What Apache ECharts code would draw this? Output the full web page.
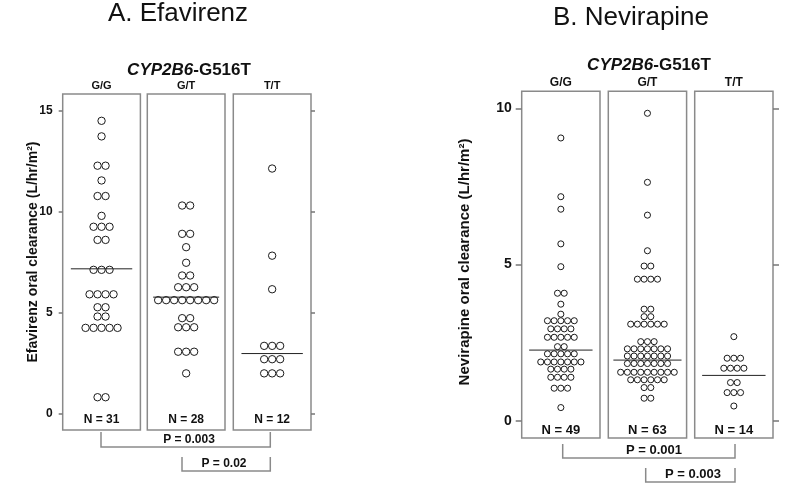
<!DOCTYPE html>
<html><head><meta charset="utf-8">
<script src="https://cdn.jsdelivr.net/npm/echarts@6/dist/echarts.min.js"></script>
<style>html,body{margin:0;padding:0;background:#fff}#c{width:800px;height:484px}</style>
</head><body><div id="c"></div>
<script>
// ---------- data ----------
const genotypes = ['G/G', 'G/T', 'T/T'];
const efTicks = [0, 5, 10, 15];
const nvTicks = [0, 5, 10];
const panelTitles = ['A. Efavirenz', 'B. Nevirapine'];
const geneLabel = ['CYP2B6', '-G516T'];
const yTitles = ['Efavirenz oral clearance (L/hr/m\u00B2)', 'Nevirapine oral clearance (L/hr/m\u00B2)'];

const efGG = [14.5, 13.73, 12.28, 12.28, 11.55, 10.78, 10.78, 9.8, 9.26, 9.26, 9.26, 8.61, 8.61,
  7.13, 7.13, 7.13, 5.92, 5.92, 5.92, 5.92, 5.28, 5.28, 4.82, 4.82, 4.26, 4.26, 4.26, 4.26, 4.26, 0.83, 0.83];
const efGT = [10.31, 10.31, 8.91, 8.91, 8.25, 7.48, 6.85, 6.85, 6.27, 6.27, 6.27,
  5.63, 5.63, 5.63, 5.63, 5.63, 5.63, 5.63, 5.63, 4.74, 4.74, 4.29, 4.29, 4.29, 3.08, 3.08, 3.08, 2.01];
const efTT = [12.14, 7.83, 6.17, 3.37, 3.37, 3.37, 2.71, 2.71, 2.71, 2.01, 2.01, 2.01];
const efMedians = [7.18, 5.78, 2.99];
const efPValues = ['P = 0.003', 'P = 0.02'];

const nvGG = [9.05, 7.17, 6.77, 5.66, 4.93, 4.08, 4.08, 3.73, 3.41,
  3.2, 3.2, 3.2, 3.2, 3.2, 2.94, 2.94, 2.94, 2.94, 2.67, 2.67, 2.67, 2.67, 2.67, 2.37, 2.37,
  2.14, 2.14, 2.14, 2.14, 2.14, 1.88, 1.88, 1.88, 1.88, 1.88, 1.88, 1.88,
  1.65, 1.65, 1.65, 1.65, 1.39, 1.39, 1.39, 1.39, 1.04, 1.04, 1.04, 0.42];
const nvGT = [9.84, 7.63, 6.58, 5.44, 4.95, 4.95, 4.53, 4.53, 4.53, 4.53, 3.57, 3.57, 3.33, 3.33,
  3.09, 3.09, 3.09, 3.09, 3.09, 3.09, 2.53, 2.53, 2.53,
  2.3, 2.3, 2.3, 2.3, 2.3, 2.3, 2.3, 2.07, 2.07, 2.07, 2.07, 2.07, 2.07, 2.07,
  1.83, 1.83, 1.83, 1.83, 1.83, 1.83, 1.83, 1.55, 1.55, 1.55, 1.55, 1.55, 1.55, 1.55, 1.55, 1.55,
  1.31, 1.31, 1.31, 1.31, 1.31, 1.31, 1.06, 1.06, 0.72, 0.72];
const nvTT = [2.69, 2.0, 2.0, 2.0, 1.68, 1.68, 1.68, 1.68, 1.22, 1.22, 0.9, 0.9, 0.9, 0.47];
const nvMedians = [2.26, 1.94, 1.45];
const nvPValues = ['P = 0.001', 'P = 0.003'];

// ---------- layout ----------
const FONT = '"Liberation Sans", Arial, sans-serif';
const panels = [
  { groups: [efGG, efGT, efTT], medians: efMedians, ticks: efTicks, pvals: efPValues,
    title: panelTitles[0], yTitle: yTitles[0],
    lefts: [62.7, 147.3, 233.3], width: 77.7, top: 94, height: 336, min: -0.791, max: 15.826,
    spacing: 8, dot: 7.4, half: [0.79, 0.85, 0.79], tickLen: 4, tickFont: 12, nFont: 12, nY: 420,
    gFont: 11, gY: 86, titleX: 178, titleY: 14, titleFont: 26, geneX: 189, geneY: 70, geneFont: 17,
    yTitleX: 33, yTitleY: 252, yTitleFont: 14, pFont: 12,
    brackets: [{ pts: [[101, 432], [101, 447], [270.3, 447], [270.3, 432]], tx: 189, ty: 440 },
               { pts: [[182, 457], [182, 471], [270.3, 471], [270.3, 457]], tx: 224, ty: 463.5 }] },
  { groups: [nvGG, nvGT, nvTT], medians: nvMedians, ticks: nvTicks, pvals: nvPValues,
    title: panelTitles[1], yTitle: yTitles[1],
    lefts: [521.7, 608.3, 694.7], width: 78.3, top: 91.3, height: 346.7, min: -0.554, max: 10.544,
    spacing: 6.7, dot: 6.1, half: [0.81, 0.87, 0.81], tickLen: 6, tickFont: 14, nFont: 13, nY: 430,
    gFont: 12, gY: 82.7, titleX: 631, titleY: 18, titleFont: 26, geneX: 649, geneY: 65, geneFont: 17,
    yTitleX: 465, yTitleY: 262, yTitleFont: 15, pFont: 13,
    brackets: [{ pts: [[562.7, 444], [562.7, 458], [735, 458], [735, 444]], tx: 654, ty: 450 },
               { pts: [[645.7, 468], [645.7, 482], [735, 482], [735, 468]], tx: 693, ty: 474 }] }
];

function swarm(values, spacing) {
  const counts = {}, seen = {};
  values.forEach(v => { counts[v] = (counts[v] || 0) + 1; });
  return values.map(v => {
    const i = seen[v] = (seen[v] === undefined ? 0 : seen[v] + 1);
    return { value: [0, v], symbolOffset: [(i - (counts[v] - 1) / 2) * spacing, 0] };
  });
}

const grid = [], xAxis = [], yAxis = [], series = [], graphic = [];
const BOX = '#8a8a8a';
panels.forEach(p => {
  p.groups.forEach((vals, g) => {
    const gi = grid.length;
    grid.push({ left: p.lefts[g], top: p.top, width: p.width, height: p.height, show: true,
      borderColor: BOX, borderWidth: 1.5, backgroundColor: 'transparent', outerBoundsMode: 'none', containLabel: false });
    xAxis.push({ gridIndex: gi, type: 'value', min: -1, max: 1, show: false });
    const yi = yAxis.length;
    yAxis.push({ gridIndex: gi, type: 'value', min: p.min, max: p.max, position: 'left',
      axisLine: { show: false, onZero: false }, splitLine: { show: false },
      axisTick: { show: g === 0, length: p.tickLen, customValues: p.ticks, lineStyle: { color: '#777', width: 1.5 } },
      axisLabel: { show: g === 0, customValues: p.ticks, margin: 10, fontSize: p.tickFont, fontWeight: 'bold', color: '#111', fontFamily: FONT } });
    if (g === 2) {
      yAxis.push({ gridIndex: gi, type: 'value', min: p.min, max: p.max, position: 'right',
        axisLine: { show: false, onZero: false }, splitLine: { show: false },
        axisTick: { show: true, length: p.tickLen, customValues: p.ticks, lineStyle: { color: '#777', width: 1.5 } },
        axisLabel: { show: false, customValues: p.ticks } });
    }
    series.push({ type: 'scatter', xAxisIndex: gi, yAxisIndex: yi, symbol: 'circle', symbolSize: p.dot,
      itemStyle: { color: '#fff', borderColor: '#1a1a1a', borderWidth: 1, opacity: 1 },
      data: swarm(vals, p.spacing), silent: true, z: 2 });
    series.push({ type: 'line', xAxisIndex: gi, yAxisIndex: yi, symbol: 'none', silent: true, z: 3,
      lineStyle: { color: '#222', width: 1 },
      data: [[-p.half[g], p.medians[g]], [p.half[g], p.medians[g]]] });
    const cx = p.lefts[g] + p.width / 2;
    graphic.push({ type: 'text', x: cx, y: p.gY, style: { text: genotypes[g], align: 'center', verticalAlign: 'middle',
      font: 'bold ' + p.gFont + 'px ' + FONT, fill: '#111' } });
    graphic.push({ type: 'text', x: cx, y: p.nY, z: 10, style: { text: 'N = ' + vals.length, align: 'center', verticalAlign: 'middle',
      font: 'bold ' + p.nFont + 'px ' + FONT, fill: '#111' } });
  });
  graphic.push({ type: 'text', x: p.titleX, y: p.titleY, style: { text: p.title, align: 'center', verticalAlign: 'middle',
    font: p.titleFont + 'px ' + FONT, fill: '#111' } });
  graphic.push({ type: 'text', x: p.geneX, y: p.geneY, style: { text: '{i|' + geneLabel[0] + '}{b|' + geneLabel[1] + '}',
    align: 'center', verticalAlign: 'middle',
    rich: { i: { fontStyle: 'italic', fontWeight: 'bold', fontSize: p.geneFont, fontFamily: FONT, fill: '#111' },
            b: { fontWeight: 'bold', fontSize: p.geneFont, fontFamily: FONT, fill: '#111' } } } });
  graphic.push({ type: 'text', x: p.yTitleX, y: p.yTitleY, rotation: Math.PI / 2,
    style: { text: p.yTitle, align: 'center', verticalAlign: 'middle', font: 'bold ' + p.yTitleFont + 'px ' + FONT, fill: '#111' } });
  p.brackets.forEach((b, k) => {
    graphic.push({ type: 'polyline', shape: { points: b.pts }, style: { stroke: '#8a8a8a', lineWidth: 1.5, fill: null } });
    graphic.push({ type: 'text', x: b.tx, y: b.ty, style: { text: p.pvals[k], align: 'center', verticalAlign: 'middle',
      font: 'bold ' + p.pFont + 'px ' + FONT, fill: '#111' } });
  });
});

const chart = echarts.init(document.getElementById('c'), null, { renderer: 'canvas' });
chart.setOption({ animation: false, backgroundColor: '#fff', grid, xAxis, yAxis, series, graphic });
</script>
</body></html>
